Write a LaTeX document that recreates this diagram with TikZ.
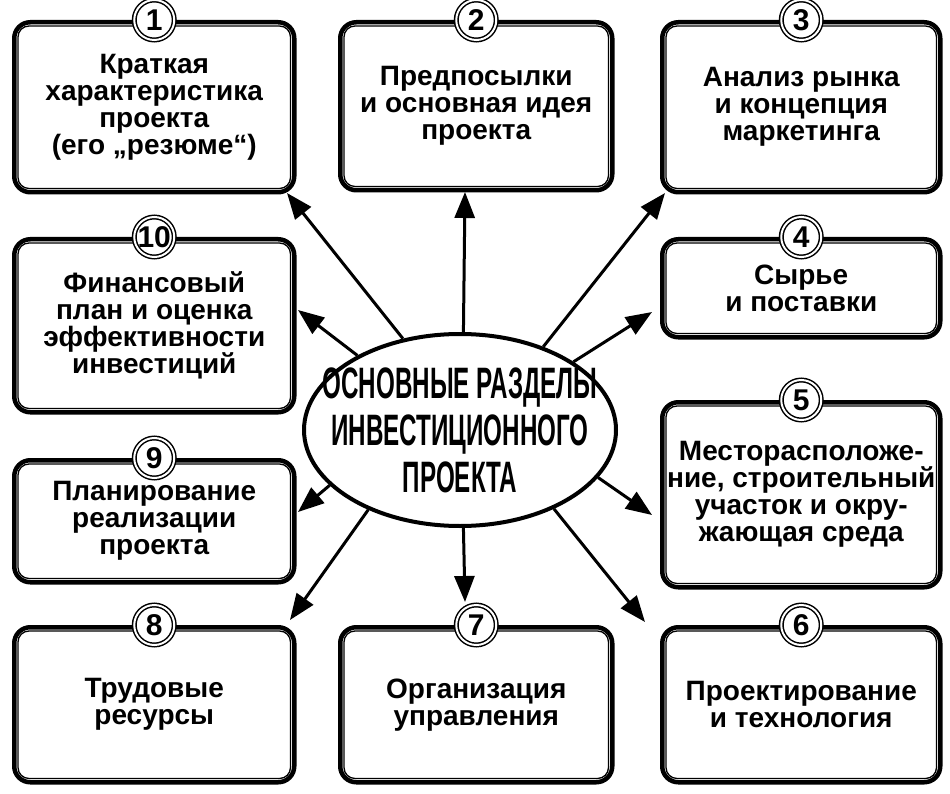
\documentclass[tikz,border=0pt]{standalone}
\usepackage{fontspec}
\setmainfont{Liberation Sans}
\newfontfamily\titlefont[FakeStretch=0.55]{Liberation Sans}
\usetikzlibrary{shapes.geometric,arrows.meta}
\tikzset{
  box/.style={draw, line width=4.5pt, rounded corners=16pt, anchor=north west,
    align=center, font=\fontsize{28}{27}\selectfont\bfseries},
  inner/.style={line width=1.3pt, rounded corners=11pt},
  num/.style={circle, draw, double, double distance=2pt, line width=1.5pt,
    fill=white, inner sep=0pt, minimum size=40pt, font=\fontsize{30}{30}\selectfont\bfseries},
  arr/.style={line width=3pt, -{Triangle[length=26pt,width=20pt]}}
}
\begin{document}
\begin{tikzpicture}[x=1pt,y=-1pt]
  \useasboundingbox (0,0) rectangle (950,794);

  % central ellipse
  \node[ellipse, draw, line width=4pt, minimum width=312pt, minimum height=192pt,
    inner sep=0pt] (ell) at (460,430) {};
  \node[align=center, font=\titlefont\fontsize{44}{47}\selectfont\bfseries]
    (title) at (ell.center) {ОСНОВНЫЕ РАЗДЕЛЫ\\ИНВЕСТИЦИОННОГО\\ПРОЕКТА};

  % section boxes
  \node[box, minimum width=280pt, minimum height=170pt] (b1) at (12,20)
    {Краткая\\характеристика\\проекта\\(его „резюме“)};
  \node[box, minimum width=272pt, minimum height=168pt] (b2) at (338,20)
    {Предпосылки\\и основная идея\\проекта};
  \node[box, minimum width=278pt, minimum height=170pt] (b3) at (660,20)
    {Анализ рынка\\и концепция\\маркетинга};
  \node[box, minimum width=278pt, minimum height=98pt] (b4) at (660,237)
    {Сырье\\и поставки};
  \node[box, minimum width=278pt, minimum height=185pt] (b5) at (660,400)
    {Месторасположе-\\ние, строительный\\участок и окру-\\жающая среда};
  \node[box, minimum width=278pt, minimum height=155pt] (b6) at (660,625)
    {Проектирование\\и технология};
  \node[box, minimum width=272pt, minimum height=155pt] (b7) at (338,625)
    {Организация\\управления};
  \node[box, minimum width=280pt, minimum height=155pt] (b8) at (12,625)
    {Трудовые\\ресурсы};
  \node[box, minimum width=280pt, minimum height=122pt] (b9) at (12,458)
    {Планирование\\реализации\\проекта};
  \node[box, minimum width=280pt, minimum height=173pt] (b10) at (12,237)
    {Финансовый\\план и оценка\\эффективности\\инвестиций};

  \foreach \n in {b1,b2,b3,b4,b5,b6,b7,b8,b9,b10}
    \draw[inner] ([xshift=6pt,yshift=-6pt]\n.north west) rectangle ([xshift=-6pt,yshift=6pt]\n.south east);

  % numbers
  \foreach \n/\t in {b1/1,b2/2,b3/3,b4/4,b5/5,b6/6,b7/7,b8/8,b9/9,b10/10}
    \node[num] (n\t) at (\n.north) {\t};

  % arrow tips
  \coordinate (t1) at (287,193);
  \coordinate (t2) at (465,192);
  \coordinate (t3) at (665,193);
  \coordinate (t4) at (652,312);
  \coordinate (t5) at (652,515);
  \coordinate (t6) at (645,622);
  \coordinate (t7) at (465,602);
  \coordinate (t8) at (290,620);
  \coordinate (t9) at (298,512);
  \coordinate (t10) at (298,310);

  \draw[arr] (ell.122) -- (t1);
  \draw[arr] (ell.88) -- (t2);
  \draw[arr] (ell.45) -- (t3);
  \draw[arr] (ell.31) -- (t4);
  \draw[arr] (ell.-19) -- (t5);
  \draw[arr] (ell.-40) -- (t6);
  \draw[arr] (ell.-88) -- (t7);
  \draw[arr] (ell.-139) -- (t8);
  \draw[arr] (ell.-157) -- (t9);
  \draw[arr] (ell.144) -- (t10);
\end{tikzpicture}
\end{document}
